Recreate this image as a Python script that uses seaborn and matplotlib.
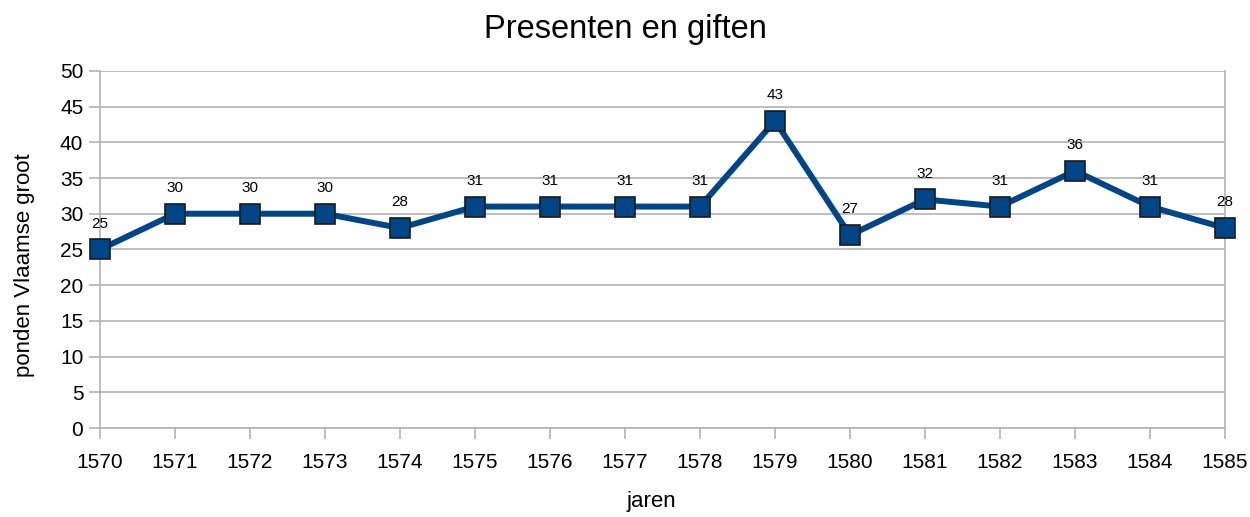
import pandas as pd
import numpy as np
import matplotlib.pyplot as plt
import seaborn as sns

years = [1570, 1571, 1572, 1573, 1574, 1575, 1576, 1577,
         1578, 1579, 1580, 1581, 1582, 1583, 1584, 1585]
values = [25, 30, 30, 30, 28, 31, 31, 31, 31, 43, 27, 32, 31, 36, 31, 28]

df = pd.DataFrame({"jaren": years, "ponden": values})

sns.set_style("white")
plt.rcParams['font.family'] = ['Liberation Sans', 'DejaVu Sans']
plt.rcParams['text.color'] = 'black'
plt.rcParams['axes.labelcolor'] = 'black'
plt.rcParams['xtick.color'] = 'black'
plt.rcParams['ytick.color'] = 'black'

fig = plt.figure(figsize=(12.5, 5.17), dpi=100)
ax = fig.add_axes([0.08, 0.172, 0.90, 0.691])

grey = "#b3b3b3"
sns.lineplot(data=df, x="jaren", y="ponden", ax=ax, color="#004586",
             linewidth=4.3, marker="s", markersize=14,
             markerfacecolor="#004586", markeredgecolor="#1a1a1a",
             markeredgewidth=1.2, zorder=3, clip_on=False)

for x, y in zip(years, values):
    ax.annotate(str(y), (x, y), xytext=(0, 18.5), textcoords="offset points",
                ha="center", va="center", fontsize=11, color="black")

ax.set_xlim(1570, 1585)
ax.set_ylim(0, 50)
ax.set_xticks(years)
ax.set_yticks(range(0, 51, 5))
ax.yaxis.grid(True, color=grey, linewidth=1.2)
ax.xaxis.grid(False)
ax.set_axisbelow(True)
for side in ["left", "right"]:
    ax.spines[side].set_color(grey)
    ax.spines[side].set_linewidth(1.2)
ax.spines["top"].set_visible(False)
ax.spines["bottom"].set_color(grey)
ax.spines["bottom"].set_linewidth(1.2)
ax.tick_params(axis="both", which="major", length=8, width=1.2, color=grey,
               labelsize=15, labelcolor="black", direction="out",
               bottom=True, left=True)
ax.tick_params(axis="x", pad=10)
ax.tick_params(axis="y", pad=4)

ax.set_xlabel("jaren", fontsize=16, color="black")
ax.set_ylabel("ponden Vlaamse groot", fontsize=16, color="black")
ax.xaxis.set_label_coords(0.49, -0.175)
ax.yaxis.set_label_coords(-0.058, 0.457)
fig.suptitle("Presenten en giften", fontsize=23.5, color="black",
             x=0.5, y=0.942, va="center")

fig.savefig("out.png", dpi=100)
